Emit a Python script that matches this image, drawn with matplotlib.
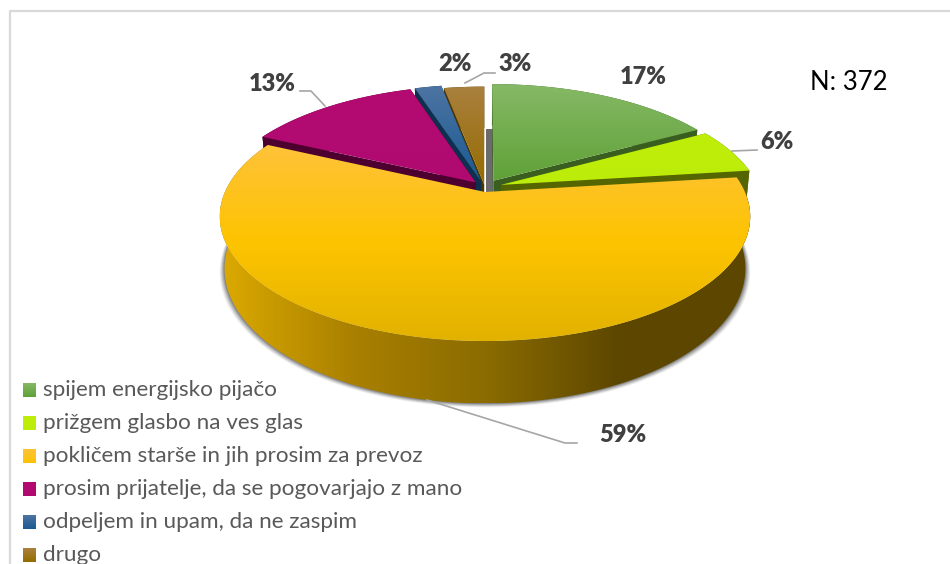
from __future__ import annotations

import matplotlib

matplotlib.use("Agg")
import matplotlib.pyplot as plt
import numpy as np
from matplotlib.colors import LinearSegmentedColormap
from matplotlib.patches import Polygon, Rectangle

categories = [
    "spijem energijsko pijačo",
    "prižgem glasbo na ves glas",
    "pokličem starše in jih prosim za prevoz",
    "prosim prijatelje, da se pogovarjajo z mano",
    "odpeljem in upam, da ne zaspim",
    "drugo",
]
values = [17, 6, 59, 13, 2, 3]
value_labels = ["17%", "6%", "59%", "13%", "2%", "3%"]
note = "N: 372"

top_colors = [
    ["#86b966", "#5fa137"],
    ["#bfef08", "#bcec0a"],
    ["#ffc23a", "#fdc400", "#e2b200"],
    ["#b30a72", "#b00a70"],
    ["#4d74a2", "#1a5a93"],
    ["#aa803f", "#956c00"],
]
wall_colors = ["#3a5e20", "#556600", "#5d4700", "#4d0030", "#0e2f4d", "#4a3500"]
yellow_wall = ["#dcaa00", "#a98000", "#8b6c00", "#5d4700", "#5d4700"]
explode = [0.065, 0.065, 0.0, 0.055, 0.065, 0.035]
lift = [0.04, 0.04, 0.0, 0.04, 0.03, 0.03]

CX, CY = 485.0, 192.0
A, B, K = 260.0, 119.7, 0.197
DEPTH = 50.0


def project(theta, r, off=(0.0, 0.0), drop=0.0):
    # perspective view of the pie plane, theta clockwise from 12 o'clock
    u = r * np.sin(theta) + off[0]
    v = r * np.cos(theta) + off[1]
    s = 1.0 / (1.0 + K * v)
    shrink = 1.0 - 0.018 * (drop > 0)
    return CX + A * u * s * shrink, CY - B * v * s + drop * s


def gradient_fill(ax, x, y, colors, zorder, horizontal=False):
    patch = Polygon(np.column_stack([x, y]), closed=True, fc="none", ec="none", zorder=zorder)
    ax.add_patch(patch)
    cmap = LinearSegmentedColormap.from_list("g", colors)
    ramp = np.linspace(0, 1, 256)
    data = ramp[None, :] if horizontal else ramp[:, None]
    ext = (x.min(), x.max(), y.max(), y.min())
    img = ax.imshow(data, cmap=cmap, extent=ext, origin="upper", aspect="auto", zorder=zorder,
                    interpolation="bilinear")
    img.set_clip_path(patch)


fig = plt.figure(figsize=(9.5, 5.64), dpi=100)
plt.rcParams["font.family"] = ["Lato", "DejaVu Sans"]
ax = fig.add_axes([0, 0, 1, 1])

edges = np.radians(np.concatenate([[0], np.cumsum(values)]) * 3.6)
draw_order = [5, 4, 0, 3, 1, 2]
for rank, i in enumerate(draw_order):
    t = np.linspace(edges[i], edges[i + 1], 160)
    mid = (edges[i] + edges[i + 1]) / 2
    off = (explode[i] * np.sin(mid), explode[i] * np.cos(mid) + lift[i])
    z = 2 + rank
    x0, y0 = project(t, 1.0, off)
    x1, y1 = project(t, 1.0, off, DEPTH)
    tipx, tipy = project(0.0, 0.0, off)
    tipx2, tipy2 = project(0.0, 0.0, off, DEPTH)
    xw = np.concatenate([x0, x1[::-1]])
    yw = np.concatenate([y0, y1[::-1]])
    if i == 2:
        # soft shadow under the big slice, only below the top face
        for grow, alpha in zip([5, 4, 3, 2, 1], [0.08, 0.12, 0.16, 0.2, 0.3]):
            xs = np.concatenate([x0, (x1 + grow * np.sin(t))[::-1]])
            ys = np.concatenate([y0, (y1 + grow * 0.8)[::-1]])
            ax.fill(xs, ys, color="#404040", alpha=alpha, lw=0, zorder=z)
        gradient_fill(ax, xw, yw, yellow_wall, z + 0.1, horizontal=True)
    else:
        for a in (edges[i], edges[i + 1]):
            ex, ey = project(a, 1.0, off)
            ex2, ey2 = project(a, 1.0, off, DEPTH)
            ax.fill([tipx, ex, ex2, tipx2], [tipy, ey, ey2, tipy2], color=wall_colors[i], lw=0, zorder=z)
        ax.fill(xw, yw, color=wall_colors[i], lw=0, zorder=z)
    xt = np.concatenate([[tipx], x0])
    yt = np.concatenate([[tipy], y0])
    gradient_fill(ax, xt, yt, top_colors[i], z + 0.2)

# grey inner wall showing in the gap beside the first slice
ax.add_patch(Rectangle((486, 129), 7, 63, fc="#6b6b6b", ec="none", zorder=2.5))

# frame
ax.plot([10, 10, 950], [564, 11, 11], color="#d9d9d9", lw=1.6, zorder=1)

# leader lines
leader = dict(color="#a6a6a6", lw=1.2, zorder=10)
ax.plot([300, 311, 325], [91, 91, 106], **leader)
ax.plot([465, 484, 495], [83, 73, 73], **leader)
ax.plot([732, 757], [151, 150], **leader)
ax.plot([427, 565, 577], [400, 443, 443], **leader)

# data labels
label_pos = [(643, 77), (777, 142), (623, 435), (272, 84), (455, 64), (515, 64)]
for (lx, ly), s in zip(label_pos, value_labels):
    ax.text(lx, ly, s, ha="center", va="center", fontsize=17, fontweight=800, color="#404040", zorder=11)
ax.text(849, 82, note, ha="center", va="center", fontsize=18.5, color="black", zorder=11)

# legend
for k, name in enumerate(categories):
    yc = 390 + 33 * k
    stops = top_colors[k][:2]
    xs = np.array([23.0, 36.0, 36.0, 23.0])
    ys = np.array([yc - 7.0, yc - 7.0, yc + 7.0, yc + 7.0])
    gradient_fill(ax, xs, ys, stops, 8)
    ax.text(43, yc, name, ha="left", va="center", fontsize=16.2, color="#595959", zorder=11)

ax.set_xlim(0, 950)
ax.set_ylim(564, 0)
ax.axis("off")
fig.savefig("out.png", dpi=100)
